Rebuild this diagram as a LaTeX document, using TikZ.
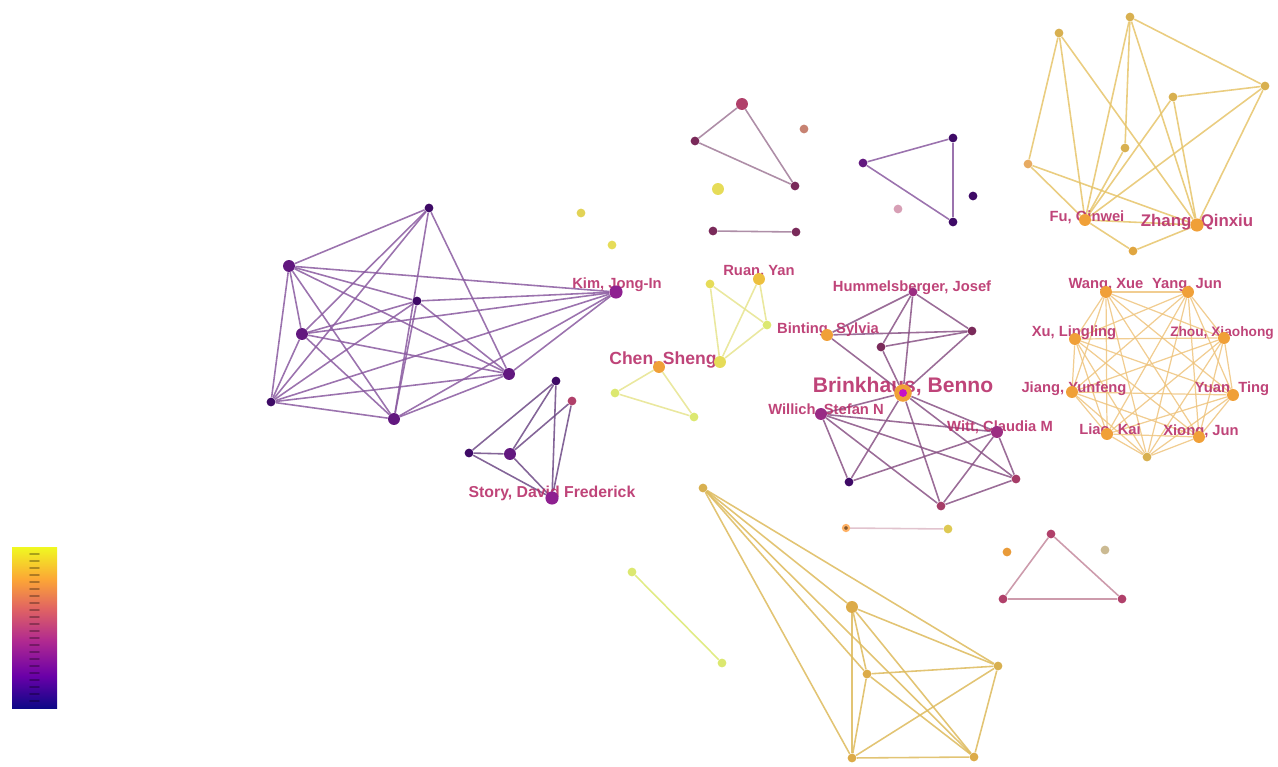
\documentclass[tikz,border=0pt]{standalone}
\usepackage{fontspec}
\setmainfont{Liberation Sans}
\usetikzlibrary{backgrounds}
\definecolor{lblc}{HTML}{B8306A}
\definecolor{pl0}{HTML}{0D0887}
\definecolor{pl1}{HTML}{6A00A8}
\definecolor{pl2}{HTML}{B12A90}
\definecolor{pl3}{HTML}{E16462}
\definecolor{pl4}{HTML}{FCA636}
\definecolor{pl5}{HTML}{F0F921}
\definecolor{pdk}{HTML}{3E0A66}
\definecolor{pmd}{HTML}{62187F}
\definecolor{pmg}{HTML}{8E2090}
\definecolor{rdn}{HTML}{B0406A}
\definecolor{brn}{HTML}{7A2A5A}
\definecolor{yln}{HTML}{E6DC58}
\definecolor{ygn}{HTML}{DCE870}
\definecolor{orn}{HTML}{F0A038}
\definecolor{tan}{HTML}{D8B050}
\definecolor{pE}{HTML}{8A5AA0}
\definecolor{sE}{HTML}{6E4A86}
\definecolor{tE}{HTML}{A07A98}
\definecolor{yE}{HTML}{E6E48E}
\definecolor{bE}{HTML}{8A5486}
\definecolor{zE}{HTML}{E6C46A}
\definecolor{rE}{HTML}{EEC47E}
\definecolor{qE}{HTML}{DDBA5C}
\definecolor{wE}{HTML}{C48A9E}
\pgfdeclareverticalshading{plasma}{100bp}{color(0bp)=(pl0); color(25bp)=(pl0); color(35bp)=(pl1); color(46bp)=(pl2); color(56bp)=(pl3); color(65bp)=(pl4); color(75bp)=(pl5); color(100bp)=(pl5)}
\tikzset{
	dot/.style={circle,fill=#1,inner sep=0pt,minimum size=5pt},
	big/.style={minimum size=6.8pt},
	lk/.style={draw=#1,line width=0.9pt,draw opacity=0.85},
	lbl/.style={text=lblc,font=\bfseries\fontsize{#1}{#1}\selectfont,inner sep=0pt,text opacity=0.9},
	lbl/.default=8.4
}
\begin{document}
\begin{tikzpicture}[x=0.02cm,y=-0.02cm,line join=round,line cap=round]
		\useasboundingbox (0,0) rectangle (1278,767);
		% colour scale
		\shade[shading=plasma] (12,547) rectangle (57,708);
		\foreach \k in {0,...,21}
			\draw[black,opacity=0.3,line width=0.9pt] (30,{554+\k*7}) -- (39,{554+\k*7});
		% labels
		\node[lbl] (kimL) at (617,285) {Kim, Jong-In};
		\node[lbl] (ruanL) at (759,272) {Ruan, Yan};
		\node[lbl=10] (chenL) at (663,360) {Chen, Sheng};
		\node[lbl=9] (storyL) at (552,493) {Story, David Frederick};
		\node[lbl] (humL) at (912,288) {Hummelsberger, Josef};
		\node[lbl] (bintL) at (828,330) {Binting, Sylvia};
		\node[lbl=12] (brinkL) at (903,386) {Brinkhaus, Benno};
		\node[lbl] (wilL) at (826,410) {Willich, Stefan N};
		\node[lbl] (wittL) at (1000,427) {Witt, Claudia M};
		\node[lbl] (fuL) at (1087,218) {Fu, Qinwei};
		\node[lbl=9.6] (zhangL) at (1197,222) {Zhang, Qinxiu};
		\node[lbl] (wangL) at (1106,285) {Wang, Xue};
		\node[lbl] (yangL) at (1187,285) {Yang, Jun};
		\node[lbl] (xuL) at (1074,333) {Xu, Lingling};
		\node[lbl=7.8] (zhouL) at (1222,333) {Zhou, Xiaohong};
		\node[lbl] (jiangL) at (1074,389) {Jiang, Yunfeng};
		\node[lbl] (yuanL) at (1232,389) {Yuan, Ting};
		\node[lbl] (liaoL) at (1110,430) {Liao, Kai};
		\node[lbl] (xiongL) at (1201,432) {Xiong, Jun};
		% left cluster
		\node[dot=pdk] (a1) at (429,208) {};
		\node[dot=pmd,big] (a2) at (289,266) {};
		\node[dot=pdk] (a3) at (417,301) {};
		\node[dot=pmd,big] (a4) at (302,334) {};
		\node[dot=pmd,big] (a5) at (509,374) {};
		\node[dot=pdk] (a6) at (271,402) {};
		\node[dot=pmd,big] (a7) at (394,419) {};
		\node[dot=pmg,minimum size=7.5pt] (kim) at (616,292) {};
		\node[dot=pdk] (s1) at (556,381) {};
		\node[dot=rdn] (s2) at (572,401) {};
		\node[dot=pdk] (s3) at (469,453) {};
		\node[dot=pmd,big] (s4) at (510,454) {};
		\node[dot=pmg,minimum size=7.5pt] (story) at (552,498) {};
		% small groups
		\node[dot=rdn,big] (t1) at (742,104) {};
		\node[dot=brn] (t2) at (695,141) {};
		\node[dot=brn] (t3) at (795,186) {};
		\node[dot=brn!60!orange!70] (d1) at (804,129) {};
		\node[dot=yln,big] (d2) at (718,189) {};
		\node[dot=yln!90!brown] (d3) at (581,213) {};
		\node[dot=yln] (d4) at (612,245) {};
		\node[dot=brn] (l1) at (713,231) {};
		\node[dot=brn] (l2) at (796,232) {};
		\node[dot=yln] (r1) at (710,284) {};
		\node[dot=yln!70!orange,big] (ruan) at (759,279) {};
		\node[dot=ygn] (r3) at (767,325) {};
		\node[dot=yln,big] (r4) at (720,362) {};
		\node[dot=orn,big] (chen) at (659,367) {};
		\node[dot=ygn] (c2) at (615,393) {};
		\node[dot=ygn] (c3) at (694,417) {};
		\node[dot=pmd] (v1) at (863,163) {};
		\node[dot=pdk] (v2) at (953,138) {};
		\node[dot=pdk] (v3) at (953,222) {};
		\node[dot=pdk] (v4) at (973,196) {};
		\node[dot=rdn!50!white] (v5) at (898,209) {};
		% Brinkhaus group
		\node[dot=pmg!60!rdn] (hum) at (913,292) {};
		\node[dot=orn,big] (bint) at (827,335) {};
		\node[dot=brn] (h2) at (881,347) {};
		\node[dot=brn] (h3) at (972,331) {};
		\node[dot=orn,minimum size=10pt] (brink) at (903,393) {};
		\node[dot=pmg!50!magenta,minimum size=4.5pt] (brinkc) at (brink) {};
		\node[dot=pmg!70!rdn,big] (wil) at (821,414) {};
		\node[dot=pmg!60!rdn,big] (witt) at (997,432) {};
		\node[dot=pdk] (b1) at (849,482) {};
		\node[dot=rdn!80!brn] (b2) at (941,506) {};
		\node[dot=rdn!80!brn] (b3) at (1016,479) {};
		% top right group
		\node[dot=tan] (z1) at (1059,33) {};
		\node[dot=tan] (z2) at (1130,17) {};
		\node[dot=tan] (z3) at (1265,86) {};
		\node[dot=tan] (z4) at (1173,97) {};
		\node[dot=tan] (z5) at (1125,148) {};
		\node[dot=orn!70!brown!80] (z6) at (1028,164) {};
		\node[dot=orn,big] (fu) at (1085,220) {};
		\node[dot=orn,minimum size=7.5pt] (zhang) at (1197,225) {};
		\node[dot=tan!80!orange] (z9) at (1133,251) {};
		% ring
		\node[dot=orn,big] (wang) at (1106,292) {};
		\node[dot=orn,big] (yang) at (1188,292) {};
		\node[dot=orn,big] (xu) at (1075,339) {};
		\node[dot=orn,big] (zhou) at (1224,338) {};
		\node[dot=orn,big] (jiang) at (1072,392) {};
		\node[dot=orn,big] (yuan) at (1233,395) {};
		\node[dot=orn,big] (liao) at (1107,434) {};
		\node[dot=orn,big] (xiong) at (1199,437) {};
		\node[dot=tan] (rb) at (1147,457) {};
		% lower groups
		\node[dot=tan] (p) at (703,488) {};
		\node[dot=tan!90!orange,big] (q1) at (852,607) {};
		\node[dot=tan!90!orange] (q2) at (867,674) {};
		\node[dot=tan] (q3) at (998,666) {};
		\node[dot=tan!90!orange] (q4) at (852,758) {};
		\node[dot=tan!90!orange] (q5) at (974,757) {};
		\node[dot=ygn] (g1) at (632,572) {};
		\node[dot=ygn] (g2) at (722,663) {};
		\node[dot=brown!70!black,draw=orange!60,line width=1.2pt,minimum size=3.5pt] (e1) at (846,528) {};
		\node[dot=yln!80!brown] (e2) at (948,529) {};
		\node[dot=orn!85!brown] (od) at (1007,552) {};
		\node[dot=rdn] (w1) at (1051,534) {};
		\node[dot=rdn] (w2) at (1003,599) {};
		\node[dot=rdn] (w3) at (1122,599) {};
		\node[dot=tan!60!gray!70] (wd) at (1105,550) {};
		\begin{scope}[on background layer]
			\foreach \u/\v in {a1/a2,a1/a4,a1/a5,a1/a6,a1/a7,a2/a3,a2/a4,a2/a5,a2/a6,a2/a7,a2/kim,
				a3/a4,a3/a5,a3/a6,a3/a7,a3/kim,a4/a5,a4/a6,a4/a7,a4/kim,a5/a6,a5/a7,a5/kim,a6/a7,a6/kim,a7/kim}
				\draw[lk=pE] (\u)--(\v);
			\foreach \u/\v in {s1/s3,s1/s4,s1/story,s2/s4,s2/story,s3/s4,s3/story,s4/story}
				\draw[lk=sE] (\u)--(\v);
			\foreach \u/\v in {t1/t2,t1/t3,t2/t3,l1/l2}
				\draw[lk=tE] (\u)--(\v);
			\foreach \u/\v in {r1/r4,r1/r3,ruan/r4,ruan/r3,r3/r4,chen/c2,chen/c3,c2/c3}
				\draw[lk=yE] (\u)--(\v);
			\foreach \u/\v in {v1/v2,v1/v3,v2/v3}
				\draw[lk=pE] (\u)--(\v);
			\foreach \u/\v in {hum/bint,hum/h2,hum/h3,hum/brink,bint/h3,bint/brink,h2/h3,h2/brink,h3/brink,
				brink/wil,brink/witt,brink/b1,brink/b2,brink/b3,wil/witt,wil/b1,wil/b2,wil/b3,
				witt/b1,witt/b2,witt/b3,b2/b3}
				\draw[lk=bE] (\u)--(\v);
			\foreach \u/\v in {z1/z6,z1/fu,z1/zhang,z2/fu,z2/z5,z2/zhang,z2/z3,z3/z4,z3/fu,z3/zhang,
				z4/fu,z4/zhang,z5/fu,z6/fu,z6/zhang,fu/z9,zhang/z9,fu/zhang}
				\draw[lk=zE] (\u)--(\v);
			\foreach \u [count=\i] in {wang,yang,zhou,yuan,xiong,rb,liao,jiang,xu}
				\foreach \v [count=\j] in {wang,yang,zhou,yuan,xiong,rb,liao,jiang,xu}
					{\ifnum\i<\j \draw[lk=rE,line width=0.7pt] (\u)--(\v); \fi}
			\foreach \u/\v in {p/q1,p/q2,p/q3,p/q4,p/q5,q1/q2,q1/q3,q1/q4,q1/q5,q2/q3,q2/q4,q2/q5,q3/q4,q3/q5,q4/q5}
				\draw[lk=qE] (\u)--(\v);
			\draw[lk=ygn] (g1)--(g2);
			\draw[lk=wE!60!white] (e1)--(e2);
			\foreach \u/\v in {w1/w2,w1/w3,w2/w3}
				\draw[lk=wE] (\u)--(\v);
		\end{scope}
\end{tikzpicture}
\end{document}
